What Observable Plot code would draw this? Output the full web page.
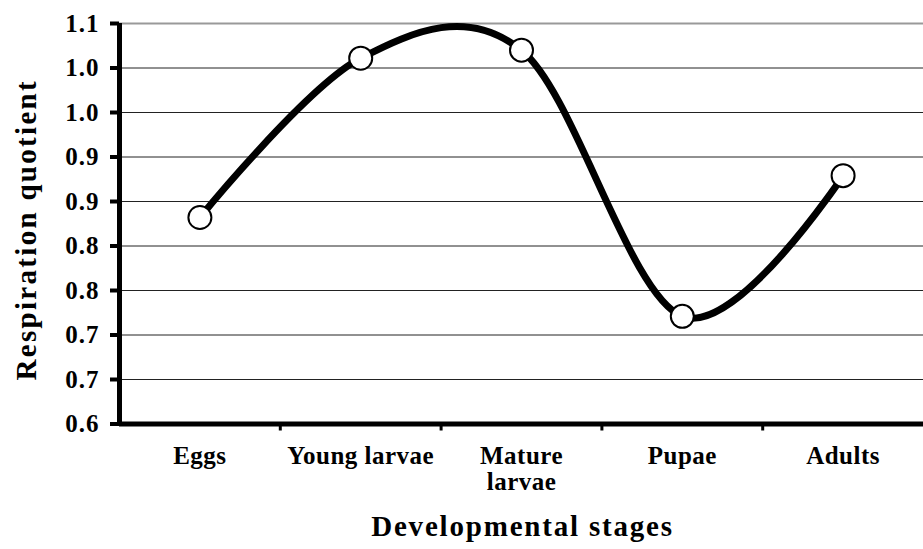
<!DOCTYPE html>
<html>
<head>
<meta charset="utf-8">
<script src="https://cdn.jsdelivr.net/npm/d3@7"></script>
<script src="https://cdn.jsdelivr.net/npm/@observablehq/plot@0.6"></script>
<style>
  html, body { margin: 0; padding: 0; background: #fff; }
  #chart svg { display: block; }
  g[aria-label="y-axis tick label"] text { letter-spacing: 1px; }
  g[aria-label="x-axis tick label"] text { letter-spacing: 0.5px; }
</style>
</head>
<body>
<div id="chart"></div>
<script>
// Data
const stages = ["Eggs", "Young larvae", "Mature larvae", "Pupae", "Adults"];
const stageLabels = ["Eggs", "Young larvae", "Mature\nlarvae", "Pupae", "Adults"];
const respirationQuotient = [0.832, 1.011, 1.020, 0.721, 0.879];
const yTickValues = [0.6, 0.65, 0.7, 0.75, 0.8, 0.85, 0.9, 0.95, 1.0, 1.05];
const yTickLabels = ["0.6", "0.7", "0.7", "0.8", "0.8", "0.9", "0.9", "1.0", "1.0", "1.1"];
const stageBoundaries = [0.5, 1.5, 2.5, 3.5];
const xTitle = "Developmental stages";
const yTitle = "Respiration quotient";

const idx = stages.map((_, i) => i);
const rows = stages.map((s, i) => ({i, stage: s, rq: respirationQuotient[i]}));
const font = '"Liberation Serif", "Times New Roman", serif';

const chart = Plot.plot({
  width: 923,
  height: 549,
  marginLeft: 119,
  marginRight: 0,
  marginTop: 23,
  marginBottom: 125.5,
  style: {fontFamily: font, background: "#fff", color: "#000"},
  x: {type: "linear", domain: [-0.5, 4.5]},
  y: {domain: [0.6, 1.05]},
  marks: [
    Plot.gridY(yTickValues, {stroke: "#222", strokeOpacity: 1, strokeWidth: 1}),
    Plot.ruleY([1.05], {stroke: "#999", strokeWidth: 2}),
    Plot.line(rows, {x: "i", y: "rq", curve: "cardinal", stroke: "#000", strokeWidth: 7}),
    Plot.dot(rows, {x: "i", y: "rq", r: 11.5, fill: "#fff", stroke: "#000", strokeWidth: 2}),
    Plot.ruleX([-0.5], {y1: 0.6, y2: 1.05, stroke: "#000", strokeWidth: 5}),
    Plot.ruleY([0.6], {x1: -0.5, x2: 4.5, stroke: "#000", strokeWidth: 5}),
    Plot.axisY(yTickValues, {
      anchor: "left", tickSize: 9, tickPadding: 11, strokeWidth: 4,
      fontSize: 25, fontWeight: "bold", label: null,
      tickFormat: d => yTickLabels[yTickValues.indexOf(d)]
    }),
    Plot.axisX(stageBoundaries, {
      anchor: "bottom", tickSize: 7, strokeWidth: 3, label: null,
      tickFormat: () => ""
    }),
    Plot.axisX(idx, {
      anchor: "bottom", tickSize: 0, tickPadding: 21, label: null,
      fontSize: 25, fontWeight: "bold", lineHeight: 1.05,
      tickFormat: d => stageLabels[d]
    }),
    Plot.text([xTitle], {
      text: d => d, frameAnchor: "bottom", textAnchor: "middle", lineAnchor: "middle",
      dx: 1, dy: 103, fontSize: 29, fontWeight: "bold"
    }),
    Plot.text([yTitle], {
      text: d => d, frameAnchor: "left", textAnchor: "middle", lineAnchor: "middle",
      rotate: -90, dx: -93, dy: 6, fontSize: 29, fontWeight: "bold"
    })
  ]
});
d3.select(chart).selectAll("text")
  .filter(function () { return this.textContent === xTitle; })
  .style("letter-spacing", "1.8px");
d3.select(chart).selectAll("text")
  .filter(function () { return this.textContent === yTitle; })
  .style("letter-spacing", "2.3px");
document.getElementById("chart").appendChild(chart);
</script>
</body>
</html>
